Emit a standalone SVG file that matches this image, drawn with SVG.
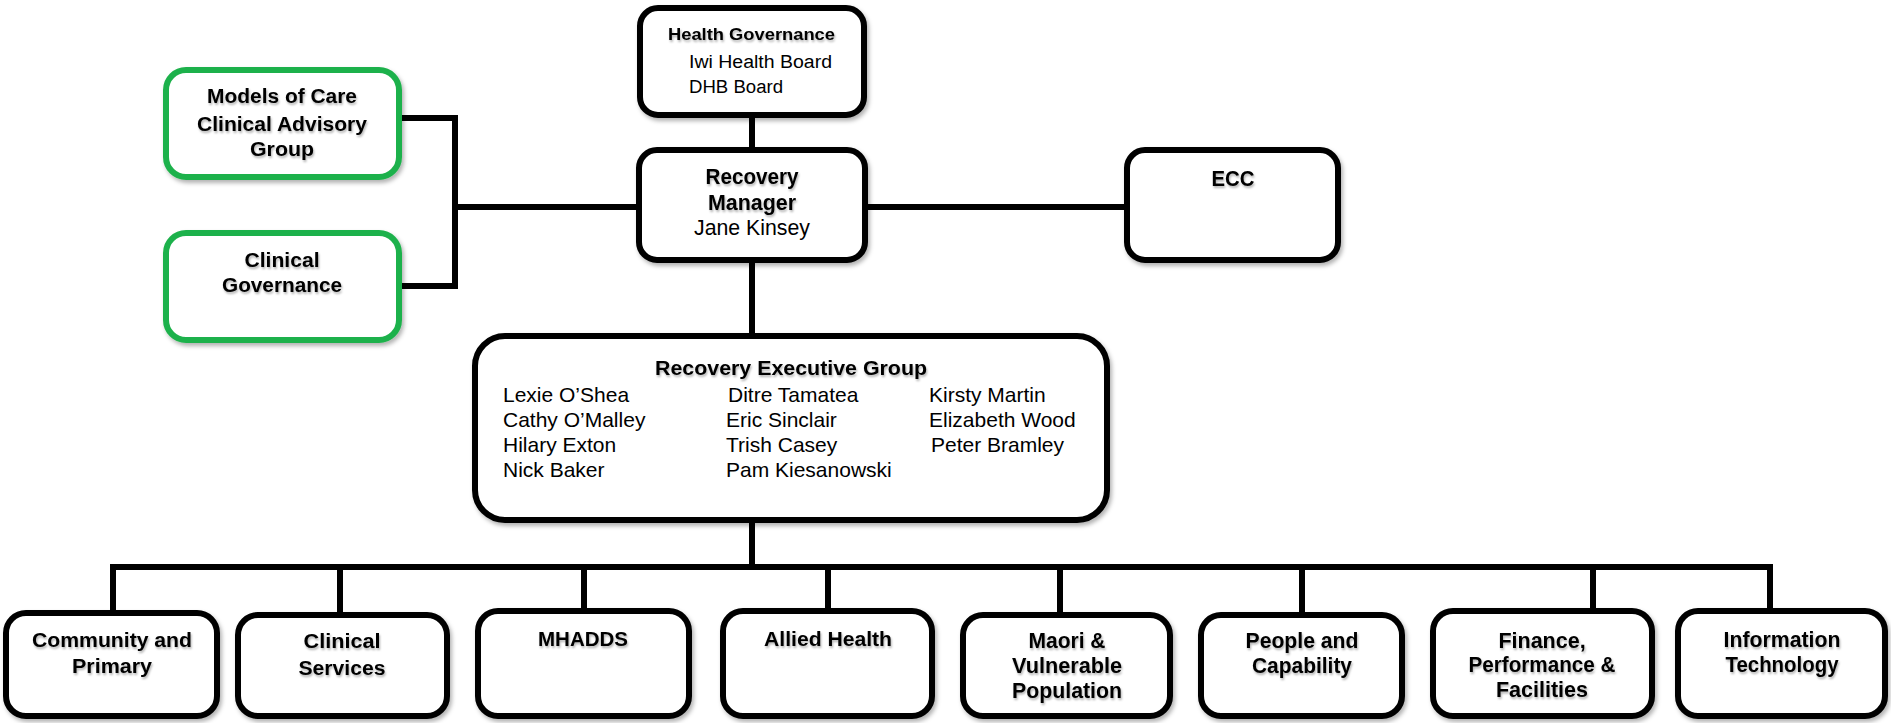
<svg xmlns="http://www.w3.org/2000/svg" width="1891" height="723" viewBox="0 0 1891 723">
  <defs>
    <filter id="shadow" x="-10%" y="-10%" width="125%" height="130%">
      <feDropShadow dx="2" dy="3" stdDeviation="2" flood-color="#000" flood-opacity="0.3"/>
    </filter>
    <filter id="tshadow" x="-5%" y="-20%" width="115%" height="160%">
      <feDropShadow dx="1" dy="2" stdDeviation="1.2" flood-color="#000" flood-opacity="0.3"/>
    </filter>
    <style>
      .box { fill: #fff; stroke: #000; stroke-width: 6; filter: url(#shadow); }
      .green { fill: #fff; stroke: #1fb14b; stroke-width: 6; filter: url(#shadow); }
      .link { fill: none; stroke: #000; stroke-width: 6; stroke-linejoin: miter; }
      text { font-family: "Liberation Sans", Arial, sans-serif; fill: #000; }
      .b { font-weight: bold; font-size: 20px; text-anchor: middle; filter: url(#tshadow); }
      .n { font-size: 22.5px; }
      .m { font-size: 21.5px; }
      .r { font-size: 21px; }
      .rc { font-size: 22.5px; text-anchor: middle; }
      .hg { font-weight: bold; font-size: 17px; filter: url(#tshadow); }
      .hgn { font-size: 18px; }
    </style>
  </defs>

  <!-- connectors -->
  <g id="connectors">
    <line class="link" x1="752" y1="115" x2="752" y2="150"/>
    <polyline class="link" points="399,118 455,118 455,286 399,286"/>
    <line class="link" x1="455" y1="207" x2="639" y2="207"/>
    <line class="link" x1="865" y1="207" x2="1127" y2="207"/>
    <line class="link" x1="752" y1="260" x2="752" y2="339"/>
    <line class="link" x1="752" y1="517" x2="752" y2="567"/>
    <polyline class="link" points="113,613 113,567 1770,567 1770,611"/>
    <line class="link" x1="340" y1="567" x2="340" y2="615"/>
    <line class="link" x1="584" y1="567" x2="584" y2="611"/>
    <line class="link" x1="828" y1="567" x2="828" y2="611"/>
    <line class="link" x1="1060" y1="567" x2="1060" y2="615"/>
    <line class="link" x1="1302" y1="567" x2="1302" y2="615"/>
    <line class="link" x1="1593" y1="567" x2="1593" y2="611"/>
  </g>

  <!-- governance -->
  <g id="health-governance">
    <rect class="box" x="640" y="8" width="224" height="107" rx="18"/>
    <text class="hg" x="668" y="40" textLength="167" lengthAdjust="spacingAndGlyphs">Health Governance</text>
    <text class="hgn" x="689" y="68" textLength="143" lengthAdjust="spacingAndGlyphs">Iwi Health Board</text>
    <text class="hgn" x="689" y="93" textLength="94" lengthAdjust="spacingAndGlyphs">DHB Board</text>
  </g>

  <g id="models-of-care">
    <rect class="green" x="166" y="70" width="233" height="107" rx="20"/>
    <text class="b" x="282" y="103" textLength="150" lengthAdjust="spacingAndGlyphs">Models of Care</text>
    <text class="b" x="282" y="131" textLength="170" lengthAdjust="spacingAndGlyphs">Clinical Advisory</text>
    <text class="b" x="282" y="156" textLength="64" lengthAdjust="spacingAndGlyphs">Group</text>
  </g>

  <g id="clinical-governance">
    <rect class="green" x="166" y="233" width="233" height="107" rx="20"/>
    <text class="b" x="282" y="267" textLength="75" lengthAdjust="spacingAndGlyphs">Clinical</text>
    <text class="b" x="282" y="292" textLength="120" lengthAdjust="spacingAndGlyphs">Governance</text>
  </g>

  <!-- recovery management -->
  <g id="recovery-manager">
    <rect class="box" x="639" y="150" width="226" height="110" rx="18"/>
    <text class="b n" x="752" y="184" textLength="93" lengthAdjust="spacingAndGlyphs">Recovery</text>
    <text class="b n" x="752" y="210" textLength="88" lengthAdjust="spacingAndGlyphs">Manager</text>
    <text class="rc" x="752" y="235" textLength="116" lengthAdjust="spacingAndGlyphs">Jane Kinsey</text>
  </g>

  <g id="ecc">
    <rect class="box" x="1127" y="150" width="211" height="110" rx="18"/>
    <text class="b n" x="1233" y="186" textLength="43" lengthAdjust="spacingAndGlyphs">ECC</text>
  </g>

  <g id="recovery-executive-group">
    <rect class="box" x="475" y="336" width="632" height="184" rx="30"/>
    <text class="b" x="791" y="375" font-size="21" textLength="272" lengthAdjust="spacingAndGlyphs">Recovery Executive Group</text>
    <text class="r" x="503" y="402">Lexie O’Shea</text>
    <text class="r" x="503" y="427">Cathy O’Malley</text>
    <text class="r" x="503" y="452">Hilary Exton</text>
    <text class="r" x="503" y="477">Nick Baker</text>
    <text class="r" x="728" y="402">Ditre Tamatea</text>
    <text class="r" x="726" y="427">Eric Sinclair</text>
    <text class="r" x="726" y="452">Trish Casey</text>
    <text class="r" x="726" y="477">Pam Kiesanowski</text>
    <text class="r" x="929" y="402">Kirsty Martin</text>
    <text class="r" x="929" y="427">Elizabeth Wood</text>
    <text class="r" x="931" y="452">Peter Bramley</text>
  </g>

  <!-- divisions -->
  <g id="community-primary">
    <rect class="box" x="6" y="613" width="211" height="103" rx="20"/>
    <text class="b" x="112" y="647" textLength="160" lengthAdjust="spacingAndGlyphs">Community and</text>
    <text class="b" x="112" y="673" textLength="80" lengthAdjust="spacingAndGlyphs">Primary</text>
  </g>

  <g id="clinical-services">
    <rect class="box" x="238" y="615" width="209" height="101" rx="20"/>
    <text class="b" x="342" y="648" textLength="77" lengthAdjust="spacingAndGlyphs">Clinical</text>
    <text class="b" x="342" y="675" textLength="87" lengthAdjust="spacingAndGlyphs">Services</text>
  </g>

  <g id="mhadds">
    <rect class="box" x="478" y="611" width="211" height="105" rx="20"/>
    <text class="b" x="583" y="646" textLength="90" lengthAdjust="spacingAndGlyphs">MHADDS</text>
  </g>

  <g id="allied-health">
    <rect class="box" x="723" y="611" width="209" height="105" rx="20"/>
    <text class="b" x="828" y="646" textLength="128" lengthAdjust="spacingAndGlyphs">Allied Health</text>
  </g>

  <g id="maori-vulnerable">
    <rect class="box" x="963" y="615" width="207" height="101" rx="20"/>
    <text class="b n" x="1067" y="648" textLength="77" lengthAdjust="spacingAndGlyphs">Maori &amp;</text>
    <text class="b n" x="1067" y="673" textLength="110" lengthAdjust="spacingAndGlyphs">Vulnerable</text>
    <text class="b n" x="1067" y="698" textLength="110" lengthAdjust="spacingAndGlyphs">Population</text>
  </g>

  <g id="people-capability">
    <rect class="box" x="1201" y="615" width="201" height="101" rx="20"/>
    <text class="b n" x="1302" y="648" textLength="113" lengthAdjust="spacingAndGlyphs">People and</text>
    <text class="b n" x="1302" y="673" textLength="100" lengthAdjust="spacingAndGlyphs">Capability</text>
  </g>

  <g id="finance-performance">
    <rect class="box" x="1433" y="611" width="219" height="105" rx="20"/>
    <text class="b m" x="1542" y="648">Finance,</text>
    <text class="b m" x="1542" y="672" textLength="147" lengthAdjust="spacingAndGlyphs">Performance &amp;</text>
    <text class="b m" x="1542" y="697">Facilities</text>
  </g>

  <g id="information-technology">
    <rect class="box" x="1678" y="611" width="207" height="105" rx="20"/>
    <text class="b n" x="1782" y="647" textLength="117" lengthAdjust="spacingAndGlyphs">Information</text>
    <text class="b n" x="1782" y="672" textLength="113" lengthAdjust="spacingAndGlyphs">Technology</text>
  </g>
</svg>
